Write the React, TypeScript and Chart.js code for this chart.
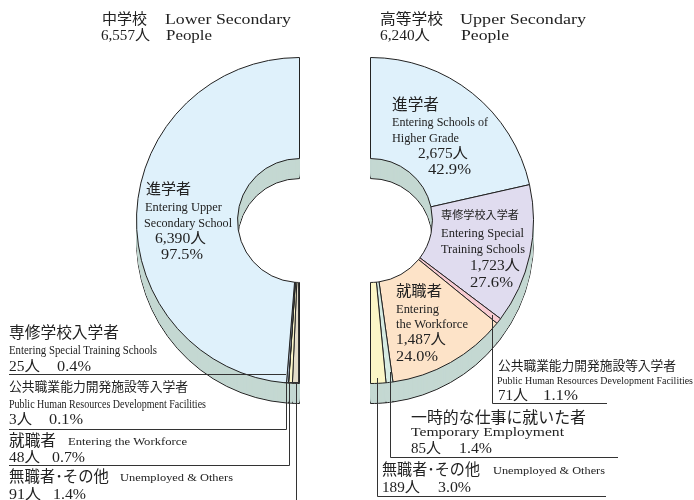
import React, { useEffect, useLayoutEffect, useRef } from "react";
import { Chart, registerables } from "chart.js";

Chart.register(...registerables);

// ---- data, counter-clockwise from the top for lower secondary, clockwise for upper secondary
const lowerTitleJa = "中学校";
const lowerTitleEn = "Lower Secondary";
const lowerTotal = "6,557人";
const upperTitleJa = "高等学校";
const upperTitleEn = "Upper Secondary";
const upperTotal = "6,240人";
const peopleEn = "People";

const lowerJa = ["進学者", "専修学校入学者", "公共職業能力開発施設等入学者", "就職者", "無職者･その他"];
const lowerEn = [
  ["Entering Upper", "Secondary School"],
  ["Entering Special Training Schools"],
  ["Public Human Resources Development Facilities"],
  ["Entering the Workforce"],
  ["Unemployed & Others"],
];
const lowerValues = [6390, 25, 3, 48, 91];
const lowerPercent = ["97.5%", "0.4%", "0.1%", "0.7%", "1.4%"];
const lowerColors = ["#dff1fb", "#c9d9ee", "#f6d5d8", "#fbf5c8", "#e3dcc8"];

const upperJa = ["進学者", "専修学校入学者", "公共職業能力開発施設等入学者", "就職者", "一時的な仕事に就いた者", "無職者･その他"];
const upperEn = [
  ["Entering Schools of", "Higher Grade"],
  ["Entering Special", "Training Schools"],
  ["Public Human Resources Development Facilities"],
  ["Entering", "the Workforce"],
  ["Temporary Employment"],
  ["Unemployed & Others"],
];
const upperValues = [2675, 1723, 71, 1487, 85, 189];
const upperPercent = ["42.9%", "27.6%", "1.1%", "24.0%", "1.4%", "3.0%"];
const upperColors = ["#dff1fb", "#e0dcef", "#f8ccd2", "#fde3c8", "#d6ebe2", "#fbf6c6"];

const people = (v: number) => v.toLocaleString("en-US") + "人";

// ---- layout of the texts: text, x, width, centre y, font size
type Label = [string, number, number, number, number];
const labels: Label[] = [
  [lowerTitleJa, 102, 45, 19, 15],
  [lowerTitleEn, 165, 126, 19, 15],
  [lowerTotal, 101, 49, 35, 15],
  [peopleEn, 166, 46, 35, 15],
  [upperTitleJa, 380, 63, 19, 15],
  [upperTitleEn, 460, 126, 19, 15],
  [upperTotal, 380, 50, 35, 15],
  [peopleEn, 461, 48, 35, 15],

  [lowerJa[0], 146, 45, 189, 15],
  [lowerEn[0][0], 145, 77, 207, 12],
  [lowerEn[0][1], 144, 88, 223, 12],
  [people(lowerValues[0]), 155, 51, 238, 15],
  [lowerPercent[0], 161, 42, 254, 15],

  [lowerJa[1], 9, 110, 333, 15.5],
  [lowerEn[1][0], 9, 148, 350, 12],
  [people(lowerValues[1]), 9, 31, 366, 15],
  [lowerPercent[1], 57, 34, 366, 15],
  [lowerJa[2], 9, 179, 387, 13],
  [lowerEn[2][0], 9, 197, 404, 12],
  [people(lowerValues[2]), 9, 23, 419, 15],
  [lowerPercent[2], 49, 34, 419, 15],
  [lowerJa[3], 9, 47, 441, 15.5],
  [lowerEn[3][0], 68, 119, 442, 11],
  [people(lowerValues[3]), 9, 31, 457, 15],
  [lowerPercent[3], 52, 33, 457, 15],
  [lowerJa[4], 9, 100, 477, 15.5],
  [lowerEn[4][0], 120, 113, 478, 11],
  [people(lowerValues[4]), 9, 32, 494, 15],
  [lowerPercent[4], 53, 33, 494, 15],

  [upperJa[0], 392, 47, 105, 15.5],
  [upperEn[0][0], 392, 96, 122, 12],
  [upperEn[0][1], 392, 67, 138, 12],
  [people(upperValues[0]), 418, 50, 153, 15],
  [upperPercent[0], 428, 43, 169, 15],
  [upperJa[1], 441, 78, 216, 11],
  [upperEn[1][0], 441, 83, 233, 12],
  [upperEn[1][1], 441, 84, 249, 12],
  [people(upperValues[1]), 470, 50, 265, 15],
  [upperPercent[1], 470, 43, 282, 15],
  [upperJa[3], 396, 46, 291, 15],
  [upperEn[3][0], 396, 43, 309, 12],
  [upperEn[3][1], 396, 72, 324, 12],
  [people(upperValues[3]), 396, 50, 339, 15],
  [upperPercent[3], 396, 42, 356, 15],

  [upperJa[2], 498, 178, 366, 13],
  [upperEn[2][0], 497, 196, 381, 11],
  [people(upperValues[2]), 498, 30, 395, 15],
  [upperPercent[2], 543, 35, 395, 15],
  [upperJa[4], 411, 175, 418, 16],
  [upperEn[4][0], 411, 153, 432, 12],
  [people(upperValues[4]), 411, 30, 448, 15],
  [upperPercent[4], 459, 33, 448, 15],
  [upperJa[5], 382, 98, 470, 15.5],
  [upperEn[5][0], 493, 112, 471, 11],
  [people(upperValues[5]), 382, 38, 487, 15],
  [upperPercent[5], 438, 33, 487, 15],
];

// ---- leader lines in page pixels, each one a polyline
const lowerLeaders: [number, number][][] = [
  [[9, 374.5], [286, 374.5]],
  [[9, 429.5], [286.5, 429.5], [286.5, 382]],
  [[9, 465.5], [289.5, 465.5], [289.5, 382]],
  [[296.5, 500], [296.5, 382]],
  [[284, 382.5], [300, 382.5]],
  [[298.5, 283], [298.5, 383]],
];
const upperLeaders: [number, number][][] = [
  [[492.5, 315], [492.5, 403.5], [607, 403.5]],
  [[390.5, 372], [390.5, 457.5], [618, 457.5]],
  [[377.5, 378], [377.5, 496.5], [606, 496.5]],
];

const DEPTH = 20;
const WALL = "#c4d8d2";
const EDGE = "#222222";

function wallPlugin(leaders: [number, number][][], canvasLeft: number) {
  return {
    id: "wall",
    beforeDatasetsDraw(chart: any) {
      const { ctx } = chart;
      const arcs = chart.getDatasetMeta(0).data;
      for (let i = DEPTH; i >= 1; i--) {
        ctx.save();
        ctx.translate(0, i);
        for (const arc of arcs) {
          const saved = arc.options;
          arc.options = {
            ...saved,
            backgroundColor: WALL,
            borderColor: i === DEPTH ? EDGE : WALL,
            borderWidth: i === DEPTH ? 1 : 0,
          };
          arc.draw(ctx);
          arc.options = saved;
        }
        ctx.restore();
      }
    },
    afterDatasetsDraw(chart: any) {
      const { ctx } = chart;
      ctx.save();
      ctx.strokeStyle = "#333333";
      ctx.lineWidth = 1;
      for (const line of leaders) {
        ctx.beginPath();
        line.forEach(([x, y], k) => (k ? ctx.lineTo(x - canvasLeft, y) : ctx.moveTo(x - canvasLeft, y)));
        ctx.stroke();
      }
      ctx.restore();
    },
  };
}

function makeChart(
  canvas: HTMLCanvasElement,
  values: number[],
  names: string[],
  colors: string[],
  rotation: number,
  padding: { left: number; right: number; top: number; bottom: number },
  leaders: [number, number][][],
  canvasLeft: number
) {
  return new Chart(canvas, {
    type: "doughnut",
    data: {
      labels: names,
      datasets: [
        {
          data: values,
          backgroundColor: colors,
          borderColor: EDGE,
          borderWidth: 1,
          borderAlign: "center",
        } as any,
      ],
    },
    options: {
      responsive: false,
      animation: false,
      rotation,
      circumference: 180,
      cutout: "38%",
      layout: { padding },
      plugins: { legend: { display: false }, tooltip: { enabled: false }, title: { display: false } },
    } as any,
    plugins: [wallPlugin(leaders, canvasLeft) as any],
  });
}

const rev = <T,>(a: T[]) => [...a].reverse();

function Fitted({ label }: { label: Label }) {
  const ref = useRef<HTMLSpanElement>(null);
  const [text, x, width, y, size] = label;
  useLayoutEffect(() => {
    const el = ref.current;
    if (el) {
      const w = el.getBoundingClientRect().width;
      if (w > 0) el.style.transform = `scaleX(${width / w})`;
    }
  }, [width]);
  return (
    <span
      ref={ref}
      style={{
        position: "absolute",
        left: x,
        top: y - size * 0.6,
        fontSize: size,
        lineHeight: 1.2 + "",
        whiteSpace: "nowrap",
        transformOrigin: "left center",
        color: "#222",
      }}
    >
      {text}
    </span>
  );
}

export default function App() {
  const leftRef = useRef<HTMLCanvasElement>(null);
  const rightRef = useRef<HTMLCanvasElement>(null);
  useEffect(() => {
    const a = makeChart(
      leftRef.current!,
      rev(lowerValues),
      rev(lowerJa),
      rev(lowerColors),
      180,
      { left: 136, right: 340 - 136 - 164, top: 57, bottom: 500 - 57 - 327 },
      lowerLeaders,
      0
    );
    const b = makeChart(
      rightRef.current!,
      upperValues,
      upperJa,
      upperColors,
      0,
      { left: 30, right: 354 - 30 - 164, top: 57, bottom: 500 - 57 - 327 },
      upperLeaders,
      340
    );
    return () => {
      a.destroy();
      b.destroy();
    };
  }, []);
  return (
    <div
      style={{
        position: "fixed",
        left: 0,
        top: 0,
        width: 694,
        height: 500,
        overflow: "hidden",
        background: "#fff",
        fontFamily: '"Liberation Serif","Noto Sans CJK JP",serif',
      }}
    >
      <canvas ref={leftRef} width={340} height={500} style={{ position: "absolute", left: 0, top: 0, width: 340, height: 500 }} />
      <canvas ref={rightRef} width={354} height={500} style={{ position: "absolute", left: 340, top: 0, width: 354, height: 500 }} />
      {labels.map((l, i) => (
        <Fitted key={i} label={l} />
      ))}
    </div>
  );
}
